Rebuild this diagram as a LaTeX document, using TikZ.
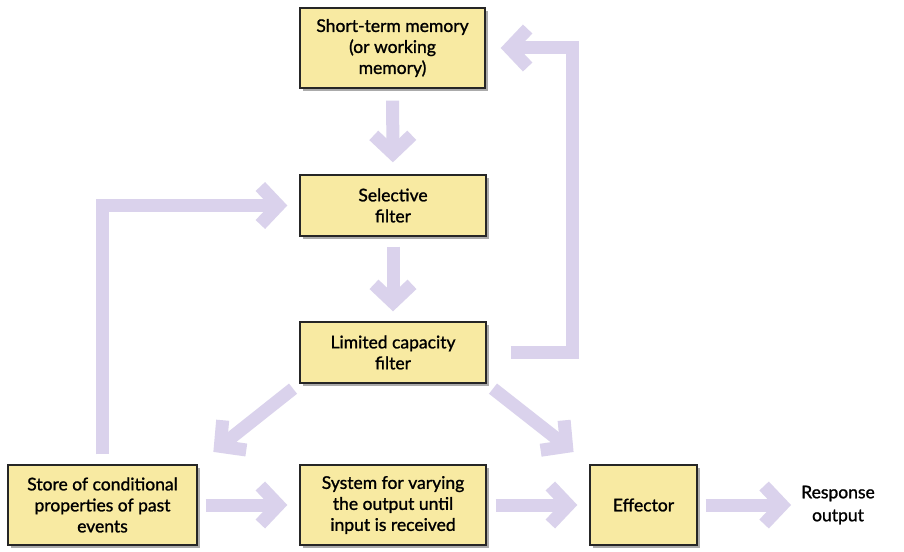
\documentclass[tikz,border=0pt]{standalone}
\usepackage{fontspec}
\setmainfont{Lato}
\newfontfamily\boxfont{Lato}[BoldFont=Lato, BoldFeatures={FakeBold=1.2}]
\usetikzlibrary{arrows.meta,shadows}
\definecolor{arr}{RGB}{218,210,236}
\definecolor{boxfill}{RGB}{248,234,162}
\tikzset{
  box/.style={draw=black!85, line width=1.4pt, fill=boxfill, align=center,
    font=\boxfont\bfseries\fontsize{17.5}{21}\selectfont, inner sep=0pt,
    drop shadow={shadow xshift=3pt,shadow yshift=-3pt,fill=black!55,opacity=0.6}},
  flow/.style={draw=arr, line width=13pt, -{Straight Barb[length=18pt,width=38pt]}},
  lbl/.style={align=center, font=\boxfont\bfseries\fontsize{17.5}{23}\selectfont, inner sep=0pt},
}
\begin{document}
\begin{tikzpicture}[x=1pt,y=-1pt]
\useasboundingbox[fill=white] (0,0) rectangle (904,551);
\node[box, minimum width=185pt, minimum height=80pt] (stm) at (392.5,48) {Short-term memory\\(or working\\memory)};
\node[box, minimum width=186pt, minimum height=61pt] (sel) at (393,205.5) {Selective\\filter};
\node[box, minimum width=186pt, minimum height=61pt] (lim) at (393,352.5) {Limited capacity\\filter};
\node[box, minimum width=189pt, minimum height=80pt] (store) at (102.5,505) {Store of conditional\\properties of past\\events};
\node[box, minimum width=186pt, minimum height=80pt] (sys) at (393,505) {System for varying\\the output until\\input is received};
\node[box, minimum width=107pt, minimum height=80pt] (eff) at (643.5,505) {Effector};
\node[lbl] (resp) at (838,505) {Response\\output};

\draw[flow, shorten <=12pt, shorten >=12pt] (stm) -- (sel);
\draw[flow, shorten <=10pt, shorten >=10pt] (sel) -- (lim);
\draw[flow, shorten <=24pt, shorten >=15pt] (lim.east) -- (572,352.5) -- (572,48) -- (stm.east);
\draw[flow, shorten <=10pt, shorten >=12pt] (store.north) -- (store.north |- sel.west) -- (sel.west);
\draw[flow, shorten <=8pt, shorten >=20pt] (lim.south west) -- (store.north east);
\draw[flow, shorten <=8pt, shorten >=20pt] (lim.south east) -- (eff.north west);
\draw[flow, shorten <=8pt, shorten >=12pt] (store.east) -- (sys.west);
\draw[flow, shorten <=9pt, shorten >=12pt] (sys.east) -- (eff.west);
\draw[flow, shorten <=8pt, shorten >=10pt] (eff.east) -- (resp.west |- eff.east);
\end{tikzpicture}
\end{document}
